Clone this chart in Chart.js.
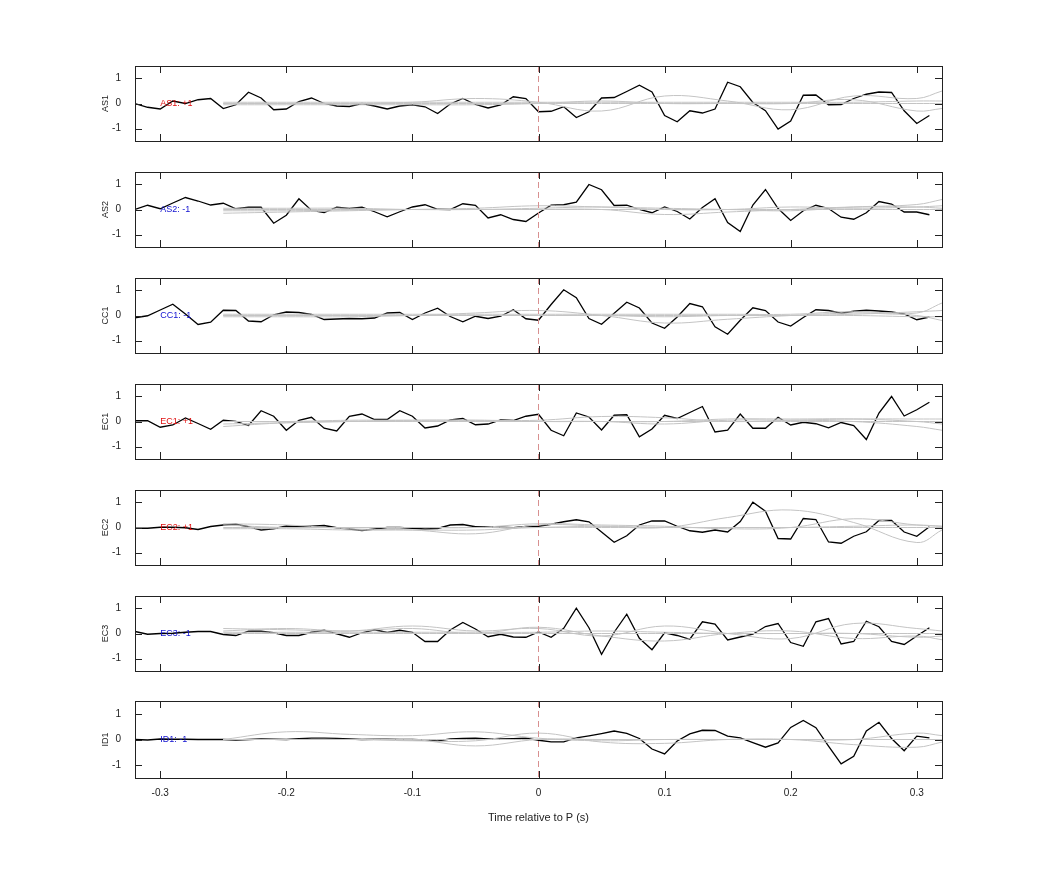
<!DOCTYPE html>
<html><head><meta charset="utf-8">
<script src="https://cdn.jsdelivr.net/npm/chart.js@4"></script>
<style>body{margin:0;background:#fff;width:1042px;height:875px;position:relative;overflow:hidden}
.p{position:absolute;left:0;width:1042px}</style></head><body>
<script>
const channels=["AS1","AS2","CC1","EC1","EC2","EC3","ID1"];
const signLabels=["AS1: +1","AS2: -1","CC1: -1","EC1: +1","EC2: +1","EC3: -1","ID1: -1"];
const signColors=["#e01010","#1010d0","#1010d0","#e01010","#e01010","#1010d0","#1010d0"];
const xTicks=[-0.3,-0.2,-0.1,0,0.1,0.2,0.3];
const yTicks=[-1,0,1];
const times=[];for(let i=-32;i<=31;i++)times.push(i/100);
const greyTimes=[-0.25,-0.2,-0.15,-0.1,-0.05,0,0.05,0.1,0.15,0.2,0.25,0.3,0.32];
const black1=[0,-0.15,-0.22,0.1,0,0.15,0.2,-0.2,-0.05,0.45,0.22,-0.25,-0.22,0.08,0.22,0,-0.1,-0.12,0,-0.1,-0.22,-0.1,-0.05,-0.13,-0.4,-0.02,0.2,-0.04,-0.18,-0.06,0.27,0.2,-0.33,-0.31,-0.13,-0.56,-0.33,0.22,0.24,0.48,0.73,0.46,-0.48,-0.73,-0.29,-0.38,-0.22,0.85,0.67,0.04,-0.29,-1.02,-0.7,0.33,0.34,-0.05,-0.04,0.2,0.37,0.46,0.44,-0.29,-0.8,-0.48];
const black2=[0,0.17,0.03,0.26,0.48,0.34,0.18,0.25,0.03,0.09,0.09,-0.55,-0.23,0.43,-0.04,-0.12,0.09,0.04,0.09,-0.09,-0.29,-0.09,0.1,0.19,0.01,0,0.23,0.17,-0.34,-0.21,-0.4,-0.48,-0.14,0.17,0.19,0.29,1.0,0.79,0.16,0.17,0,-0.13,0.1,-0.08,-0.38,0.08,0.43,-0.52,-0.88,0.18,0.8,0.04,-0.44,-0.05,0.17,0.04,-0.31,-0.39,-0.13,0.32,0.22,-0.1,-0.1,-0.21];
const black3=[-0.09,-0.01,0.22,0.45,0.06,-0.36,-0.27,0.21,0.2,-0.22,-0.25,0.03,0.14,0.12,0.04,-0.16,-0.14,-0.12,-0.13,-0.1,0.1,0.12,-0.16,0.1,0.29,-0.04,-0.25,-0.03,-0.12,-0.03,0.23,-0.13,-0.19,0.44,1.03,0.71,-0.12,-0.35,0.09,0.53,0.3,-0.3,-0.51,-0.06,0.48,0.35,-0.45,-0.75,-0.19,0.31,0.2,-0.26,-0.42,-0.08,0.23,0.2,0.09,0.17,0.21,0.18,0.14,0.06,-0.17,-0.06];
const black4=[0.03,0.03,-0.23,-0.14,0.14,-0.08,-0.31,0.05,0,-0.16,0.43,0.21,-0.35,0.05,0.17,-0.27,-0.38,0.21,0.3,0.08,0.08,0.43,0.21,-0.26,-0.18,0.06,0.12,-0.13,-0.1,0.06,0.04,0.21,0.29,-0.35,-0.57,0.34,0.18,-0.34,0.25,0.27,-0.61,-0.3,0.25,0.12,0.36,0.6,-0.42,-0.35,0.3,-0.27,-0.27,0.17,-0.14,-0.03,-0.09,-0.25,-0.04,-0.16,-0.72,0.34,1.0,0.22,0.47,0.77];
const black5=[-0.03,-0.03,0.01,0.01,-0.01,-0.08,0.04,0.1,0.13,0.03,-0.1,-0.05,0.06,0.03,0.05,0.08,-0.01,-0.06,-0.12,-0.06,0,0,-0.03,-0.06,-0.04,0.1,0.12,0.03,0.03,0.01,-0.01,0.04,0.05,0.13,0.23,0.31,0.23,-0.18,-0.59,-0.33,0.1,0.26,0.26,0.05,-0.13,-0.19,-0.1,-0.18,0.24,1.01,0.65,-0.44,-0.46,0.36,0.32,-0.58,-0.63,-0.35,-0.17,0.28,0.28,-0.18,-0.35,0.03];
const black6=[0.08,-0.03,0,0.01,0.05,0.08,0.08,-0.04,-0.08,0.09,0.09,0.03,-0.08,-0.08,0.05,0.13,-0.01,-0.15,0.03,0.15,0.04,0.13,0.05,-0.32,-0.32,0.14,0.44,0.18,-0.13,-0.03,-0.14,-0.15,0.06,-0.15,0.21,1.01,0.23,-0.83,0.05,0.77,-0.19,-0.65,0.03,-0.08,-0.23,0.47,0.38,-0.26,-0.14,-0.03,0.28,0.4,-0.36,-0.51,0.47,0.6,-0.42,-0.32,0.49,0.27,-0.32,-0.44,-0.1,0.23];
const black7=[0,-0.02,0.02,0.01,0.01,0,0,0,-0.02,0,0.02,0.01,0,0.03,0.05,0.05,0.04,0.02,0,0.01,0.02,0,0,-0.02,-0.05,0.02,0.04,0.05,0.02,0.02,0.03,0.05,-0.03,-0.09,-0.09,0.06,0.14,0.23,0.33,0.24,0.04,-0.37,-0.56,-0.06,0.22,0.36,0.35,0.13,0.06,-0.12,-0.3,-0.13,0.47,0.74,0.46,-0.26,-0.95,-0.65,0.33,0.67,0.04,-0.44,0.13,0.06];
const grey1=[[0,0,0,0.05,0.2,0.05,-0.3,0.3,0.1,-0.25,0.3,0.2,0.5],[-0.05,-0.05,-0.05,-0.05,-0.05,0,0.1,0,0,0,0.15,-0.3,-0.2],[0,0,0,0,0,0,0,0,0,0,0,0,0],[0.05,0.05,0.05,0.05,0.05,0.05,0.05,0.05,0.05,0.05,0.05,0.1,0.1]];
const grey2=[[-0.05,-0.05,-0.02,0,0.05,0.15,0.1,0.05,0,-0.05,0.1,0.2,0.4],[-0.15,-0.1,-0.05,0,0,0,0,-0.2,-0.1,0,0.1,0.1,0.05],[0.05,0.05,0.05,0,0,0.05,0.1,0,0,0.1,0.05,0.1,0.15],[0,0,0,0,0,0,0,0,0,0,0,0,0]];
const grey3=[[0,0,0,0,0.1,0.2,0,-0.3,-0.15,0,0.1,0.1,0.5],[0.05,0.05,0.05,0.05,0.05,0.05,0.05,0.05,0.05,0.05,0.15,0,-0.2],[0,0,0,0,0,0,0,0,0,0,0.05,0.15,0.2],[-0.05,-0.05,-0.05,0,0,0,0,-0.05,0,0,0,-0.05,-0.05]];
const grey4=[[-0.2,-0.05,0,0.05,0.05,0.05,0.2,0.15,0,0.05,0.1,0.1,0.1],[-0.1,-0.05,0,0,0,0,0,-0.1,0.05,0.05,0,-0.2,-0.35],[0,0,0,0,0,0,0,0,0,0,0,0,0],[0,0,0.05,0.05,0.05,0,0,0,0.1,0.1,0.1,0,-0.1]];
const grey5=[[0.15,0.1,-0.05,-0.1,-0.25,0.1,0.05,0,0.4,0.7,0.2,-0.6,-0.1],[0.1,0,0,0,0,0.15,0.1,0.05,-0.05,0,0.35,0.1,0.05],[-0.05,-0.05,-0.1,-0.1,-0.1,0,0,0,0,0,0,0,0],[0,0,0,0,0,0,0.05,0,0,0,0.05,0.1,0.05]];
const grey6=[[0.2,0.15,0.1,0.3,0.1,0.2,-0.1,0.3,0,-0.2,0.4,0.2,0.1],[0.1,0.2,0.1,0.2,0,0.25,-0.1,-0.3,0,0.1,-0.2,-0.1,-0.25],[0,0,0,0,0,0,0,0,0,0,0,0,0],[0.05,0.05,0.05,0.05,0.05,0.05,0.1,0.05,0,0,0,-0.15,-0.1]];
const grey7=[[0,0.3,0.2,0.15,0.3,0.05,-0.05,0,0,0,-0.2,-0.3,-0.1],[0,0,0,-0.05,-0.05,0.25,-0.1,-0.15,0,0,0,0.25,0.15],[0,0,0,0,-0.25,0,0,0,0,0,0,0,0],[0,0,0,0,0,0,0,0,0,0,0,0,0]];
const blacks=[black1,black2,black3,black4,black5,black6,black7];
const greys=[grey1,grey2,grey3,grey4,grey5,grey6,grey7];
const tops=[66,172,278,384,490,596,702];

const frame={id:'frame',afterDraw(c){
  const ctx=c.ctx,a=c.chartArea,xs=c.scales.x,ys=c.scales.y,o=c.options.plugins.frame;
  ctx.save();
  const x0=xs.getPixelForValue(0);
  ctx.strokeStyle='#d89090';ctx.lineWidth=1;ctx.setLineDash([6,4]);
  ctx.beginPath();ctx.moveTo(x0,a.top);ctx.lineTo(x0,a.bottom);ctx.stroke();
  ctx.setLineDash([]);
  ctx.strokeStyle='#222';ctx.lineWidth=1;
  ctx.strokeRect(a.left+0.5,a.top+0.5,a.right-a.left,a.bottom-a.top);
  ctx.beginPath();
  xTicks.forEach(v=>{const p=Math.round(xs.getPixelForValue(v))+0.5;ctx.moveTo(p,a.top);ctx.lineTo(p,a.top+7);ctx.moveTo(p,a.bottom);ctx.lineTo(p,a.bottom-7);});
  yTicks.forEach(v=>{const p=Math.round(ys.getPixelForValue(v))+0.5;ctx.moveTo(a.left,p);ctx.lineTo(a.left+7,p);ctx.moveTo(a.right,p);ctx.lineTo(a.right-7,p);});
  ctx.stroke();
  ctx.font='9px "Liberation Sans", Arial';ctx.fillStyle=o.color;ctx.textAlign='left';ctx.textBaseline='middle';
  ctx.fillText(o.label,xs.getPixelForValue(-0.3),ys.getPixelForValue(0));
  ctx.save();ctx.translate(106,(a.top+a.bottom)/2);ctx.rotate(-Math.PI/2);
  ctx.fillStyle='#222';ctx.textAlign='center';ctx.fillText(o.title,0,0);ctx.restore();
  ctx.restore();
}};

channels.forEach((ch,i)=>{
  const last=i===6;
  const div=document.createElement('div');div.className='p';
  const h=last?140:99;
  div.style.top=(tops[i]-(last?13:12))+'px';div.style.height=h+'px';
  const cv=document.createElement('canvas');div.appendChild(cv);document.body.appendChild(div);
  const ds=[];
  greys[i].forEach(g=>ds.push({data:greyTimes.map((t,k)=>({x:t,y:g[k]})),borderColor:'#c4c4c4',borderWidth:1,pointRadius:0,tension:0.4}));
  ds.push({data:times.map((t,k)=>({x:t,y:blacks[i][k]})),borderColor:'#000',borderWidth:1.3,pointRadius:0,tension:0});
  new Chart(cv,{type:'line',data:{datasets:ds},plugins:[frame],options:{
    responsive:true,maintainAspectRatio:false,animation:false,
    layout:{padding:{left:0,right:100,top:10,bottom:last?0:10}},
    plugins:{legend:{display:false},tooltip:{enabled:false},frame:{label:signLabels[i],color:signColors[i],title:ch}},
    scales:{
      x:{type:'linear',min:-0.32,max:0.32,display:last,
        afterBuildTicks(s){s.ticks=xTicks.map(v=>({value:v}));},
        afterFit(s){if(last)s.height=51;},
        grid:{display:false},border:{display:false},
        ticks:{color:'#222',font:{size:10,family:'Liberation Sans'},padding:1,callback:v=>String(v)},
        title:{display:true,text:'Time relative to P (s)',color:'#222',font:{size:11,family:'Liberation Sans'},padding:{top:13}}},
      y:{min:-1.5,max:1.5,afterBuildTicks(s){s.ticks=yTicks.map(v=>({value:v}));},
        afterFit(s){s.width=135;},
        grid:{display:false},border:{display:false},
        ticks:{color:'#222',font:{size:10,family:'Liberation Sans'},padding:6}}
    }}});
});
</script></body></html>
